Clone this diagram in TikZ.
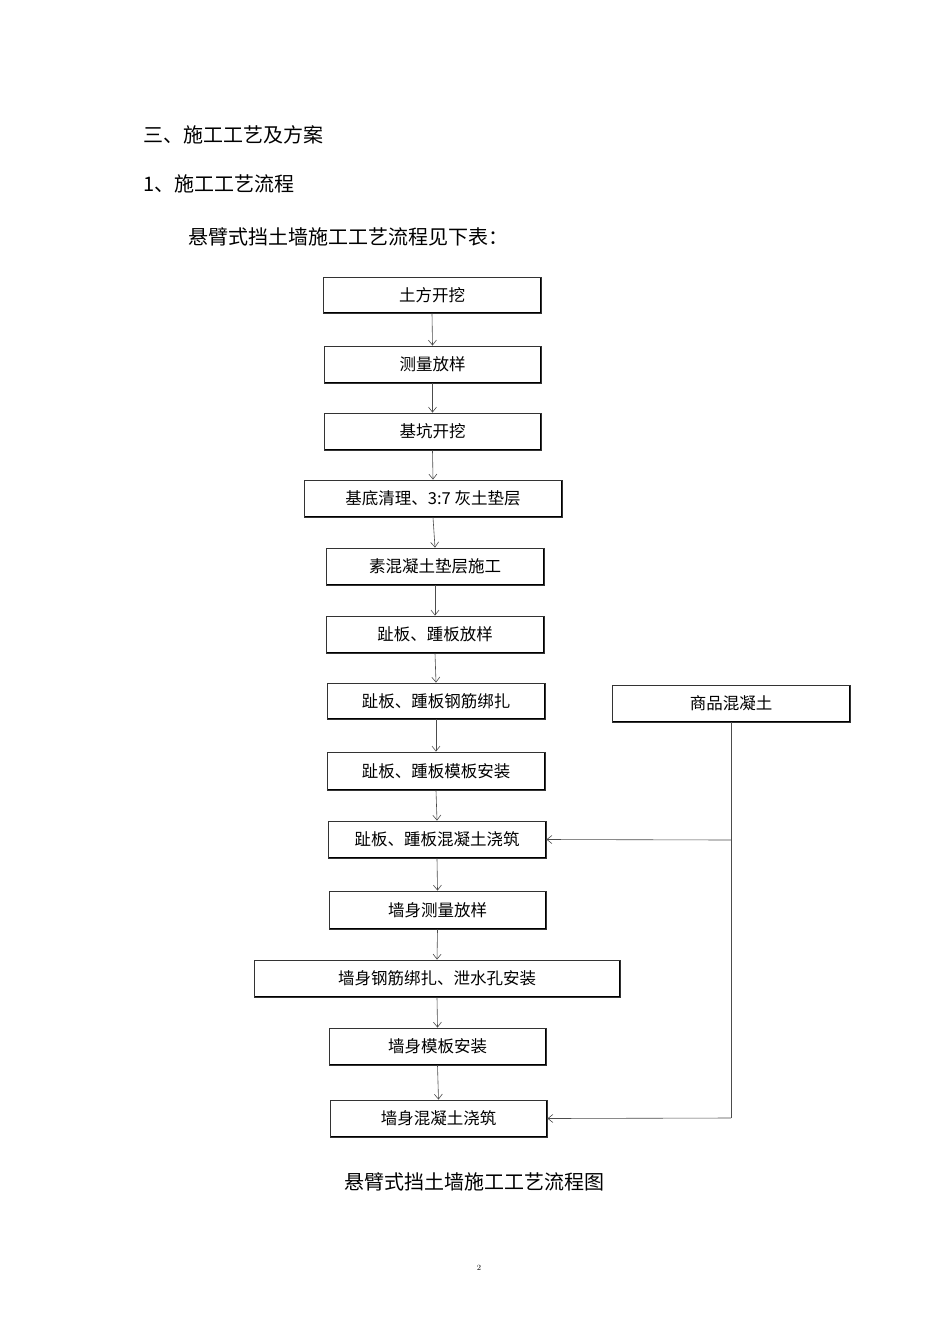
\documentclass[tikz,border=0pt]{standalone}
\usepackage{fontspec}
\newfontfamily\cjk{Noto Sans CJK SC}
\usetikzlibrary{arrows.meta}
\begin{document}
\begin{tikzpicture}[x=1pt,y=-1pt,
  fbox/.style={draw=black!80,line width=0.8pt,font=\cjk\fontsize{16.5}{19}\selectfont,inner sep=0pt},
  arr/.style={draw=black!70,line width=0.6pt,-{Straight Barb[length=5pt,width=8pt]}},
  txt/.style={font=\cjk\fontsize{20}{24}\selectfont,anchor=west,inner sep=0pt}]
\useasboundingbox[fill=white] (0,0) rectangle (950,1344);
\node[txt] (h1) at (143,135) {三、施工工艺及方案};
\node[txt] (h2) at (143,184) {1、施工工艺流程};
\node[txt] (h3) at (188,237) {悬臂式挡土墙施工工艺流程见下表：};
\foreach \n/\a/\b/\c/\d/\t in {
 b1/323/277/541/313/土方开挖,
 b2/324/346/541/383/测量放样,
 b3/324/413/541/450/基坑开挖,
 b4/304/480/562/517/基底清理、3:7 灰土垫层,
 b5/326/548/544/585/素混凝土垫层施工,
 b6/326/616/544/653/趾板、踵板放样,
 b7/327/683/545/719/趾板、踵板钢筋绑扎,
 b8/327/752/545/790/趾板、踵板模板安装,
 b9/328/821/546/858/趾板、踵板混凝土浇筑,
 b10/329/891/546/929/墙身测量放样,
 b11/254/960/620/997/墙身钢筋绑扎、泄水孔安装,
 b12/329/1028/546/1065/墙身模板安装,
 b13/330/1100/547/1137/墙身混凝土浇筑,
 s/612/685/850/722/商品混凝土}
{
 \draw[black,line width=1.6pt] (\a+1,\d) -- (\c,\d) -- (\c,\b+1);
 \node[fbox,minimum width=\c pt-\a pt,minimum height=\d pt-\b pt] (\n) at ({(\a+\c)/2},{(\b+\d)/2}) {\t};
}
\foreach \i [evaluate=\i as \j using int(\i+1)] in {1,...,12}
 \draw[arr] (b\i.south) -- (b\j.north);
\coordinate (c1) at (731,840);
\coordinate (c2) at (731,1118);
\draw[draw=black!70,line width=0.6pt] (s.south -| c1) -- (c2);
\draw[arr] (c1) -- (b9.east);
\draw[arr] (c2) -- (b13.east);
\node[font=\cjk\fontsize{20}{24}\selectfont] (cap) at (474,1182) {悬臂式挡土墙施工工艺流程图};
\node[font=\fontsize{8}{9}\selectfont] (pg) at (479,1268) {2};
\end{tikzpicture}
\end{document}
